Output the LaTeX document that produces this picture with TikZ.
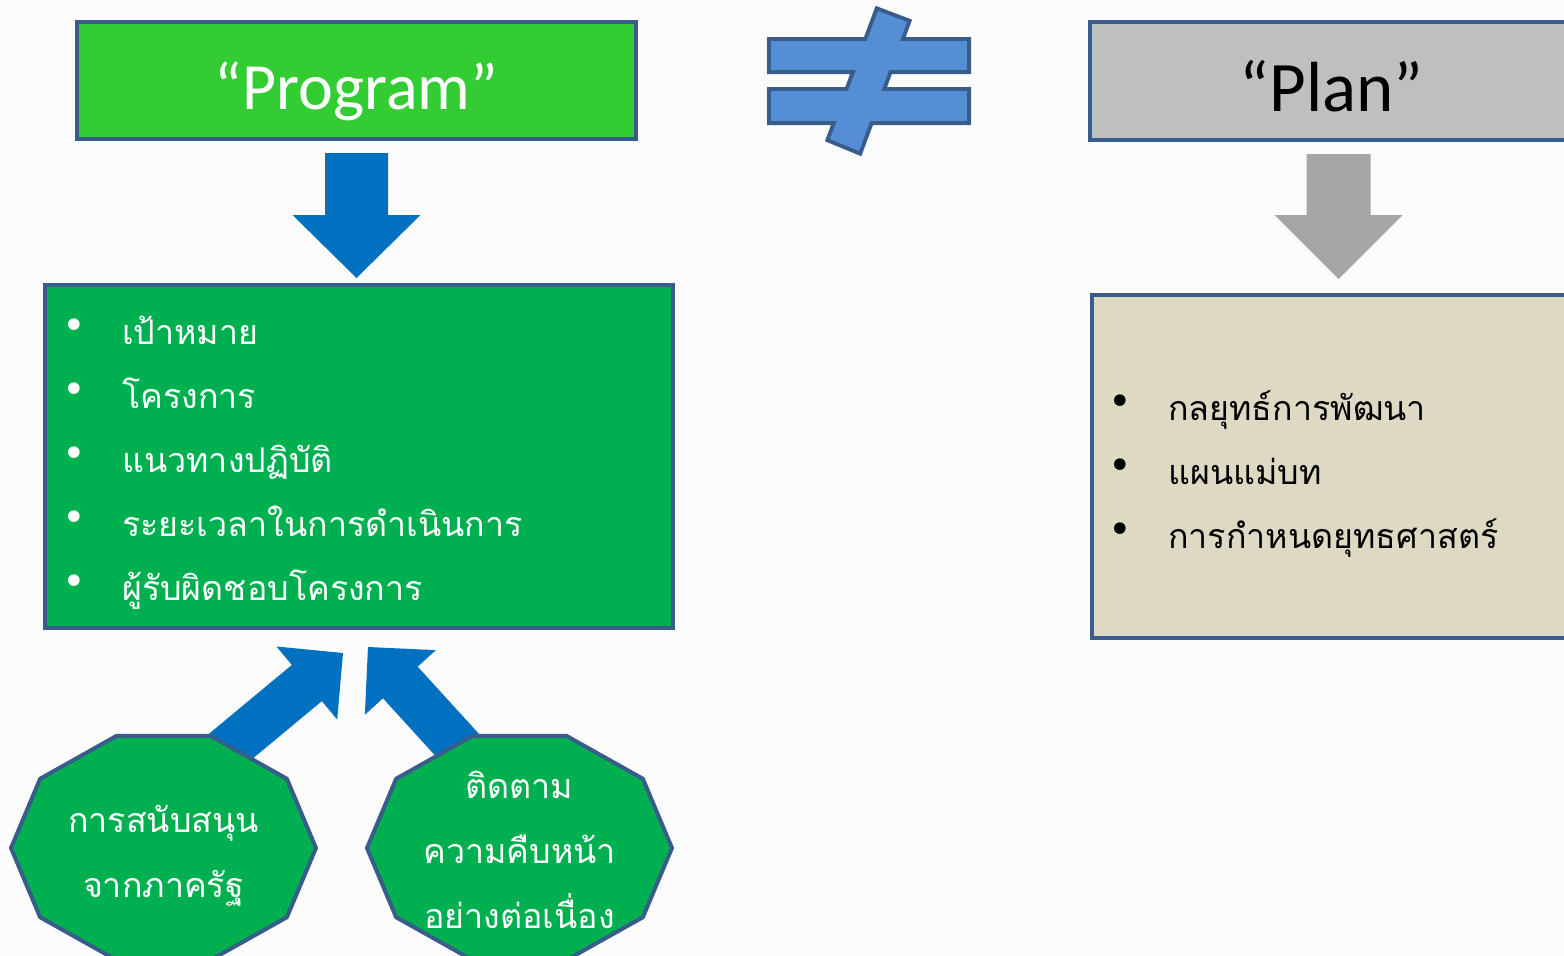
\documentclass[tikz,border=0pt]{standalone}
\usepackage{fontspec}
\setmainfont{Carlito}
\newfontfamily\thaifont[Script=Thai]{Loma}
\newfontfamily\bulfont{DejaVu Sans}
\usetikzlibrary{calc}
\definecolor{edgeblue}{HTML}{385D8A}
\definecolor{titlegreen}{HTML}{33CC33}
\definecolor{listgreen}{HTML}{00B050}
\definecolor{arrowblue}{HTML}{0070C0}
\definecolor{arrowgray}{HTML}{A6A6A6}
\definecolor{plangray}{HTML}{BFBFBF}
\definecolor{planbeige}{HTML}{DDD9C3}
\definecolor{neqblue}{HTML}{558ED5}

% bullet with a fixed gap before the item text
\newcommand\bul{\makebox[60pt][l]{\raisebox{5pt}{\bulfont\fontsize{40}{40}\selectfont •}}}

% block arrow: fill, from, to, half shaft, half head, head length
\newcommand\blockarrow[6]{%
  \coordinate (ba-s) at #2;
  \coordinate (ba-t) at #3;
  \coordinate (ba-h) at ($(ba-t)!#6!(ba-s)$);
  \fill[#1] ($(ba-s)!#4!90:(ba-t)$) -- ($(ba-h)!#4!90:(ba-t)$) -- ($(ba-h)!#5!90:(ba-t)$)
    -- (ba-t) -- ($(ba-h)!#5!-90:(ba-t)$) -- ($(ba-h)!#4!-90:(ba-t)$) -- ($(ba-s)!#4!-90:(ba-t)$) -- cycle;
}

\begin{document}
\begin{tikzpicture}[x=1pt, y=-1pt,
    titlebox/.style={rectangle, draw=edgeblue, line width=4pt, minimum width=559pt, minimum height=117pt,
      font=\fontsize{66}{66}\selectfont, text height=58pt, text depth=0pt},
    listbox/.style={rectangle, draw=edgeblue, line width=4pt, minimum width=628pt, minimum height=343pt},
    listtext/.style={font=\thaifont\fontsize{34}{64}\selectfont, align=left, inner sep=0pt},
    decatext/.style={font=\thaifont\fontsize{34}{65}\selectfont, align=center, inner sep=0pt, text=white},
    decagon/.style={fill=listgreen, draw=edgeblue, line width=4pt, line join=round}
]
    \path[use as bounding box, clip] (0,0) rectangle (1564,956);
    \fill[white!99!black] (0,0) rectangle (1564,956);

    % Program side
    \node[titlebox, fill=titlegreen, text=white] (prog) at (356.5,80.5) {“Program”};
    \node[listbox, fill=listgreen] (progbox) at (359,456.5) {};
    \node[listtext, text=white, anchor=base west] (proglist) at (62,600) {%
        \bul เป้าหมาย\\
        \bul โครงการ\\
        \bul แนวทางปฏิบัติ\\
        \bul ระยะเวลาในการดำเนินการ\\
        \bul ผู้รับผิดชอบโครงการ};
    \blockarrow{arrowblue}{($(prog.south)+(0,12)$)}{($(prog.south |- progbox.north)+(0,-5)$)}{31.5pt}{64pt}{63pt}

    % not equal
    \draw[edgeblue, line width=8pt]
        (771,41) rectangle (967,70) (771,91) rectangle (967,121)
        (878,11) -- (907,22) -- (859,151) -- (830,139) -- cycle;
    \fill[neqblue] (771,41) rectangle (967,70);
    \fill[neqblue] (771,91) rectangle (967,121);
    \fill[neqblue] (878,11) -- (907,22) -- (859,151) -- (830,139) -- cycle;

    % Plan side
    \node[titlebox, fill=plangray, minimum width=483pt, minimum height=118pt,
        font=\fontsize{71}{71}\selectfont, text height=61pt] (plan) at (1331.5,81) {“Plan”};
    \node[listbox, fill=planbeige, minimum width=480pt] (planbox) at (1332,466.5) {};
    \node[listtext, anchor=base west] (planlist) at (1108,548) {%
        \bul กลยุทธ์การพัฒนา\\
        \bul แผนแม่บท\\
        \bul การกำหนดยุทธศาสตร์};
    \blockarrow{arrowgray}{($(plan.south)+(7,12)$)}{($(plan.south |- planbox.north)+(7,-14)$)}{32pt}{64pt}{64pt}

    % supports feeding the program
    \coordinate (sup) at (163.5,848);
    \coordinate (mon) at (519.5,848);
    \blockarrow{arrowblue}{($(sup)+(23,-65)$)}{($(progbox.south)+(-16,23)$)}{23.5pt}{47.5pt}{47pt}
    \blockarrow{arrowblue}{($(mon)+(-23,-60)$)}{($(progbox.south)+(9,17)$)}{23.5pt}{48pt}{48pt}
    \draw[decagon] ($(sup)+(0:152.5 and 117.8)$) \foreach \a in {36,72,...,324} {-- ($(sup)+(\a:152.5 and 117.8)$)} -- cycle;
    \draw[decagon] ($(mon)+(0:152.5 and 117.8)$) \foreach \a in {36,72,...,324} {-- ($(mon)+(\a:152.5 and 117.8)$)} -- cycle;
    \node[decatext, anchor=base] (suptext) at ($(sup)+(0,49)$) {การสนับสนุน\\จากภาครัฐ};
    \node[decatext, anchor=base] (montext) at ($(mon)+(0,80)$) {ติดตาม\\ความคืบหน้า\\อย่างต่อเนื่อง};
\end{tikzpicture}
\end{document}
